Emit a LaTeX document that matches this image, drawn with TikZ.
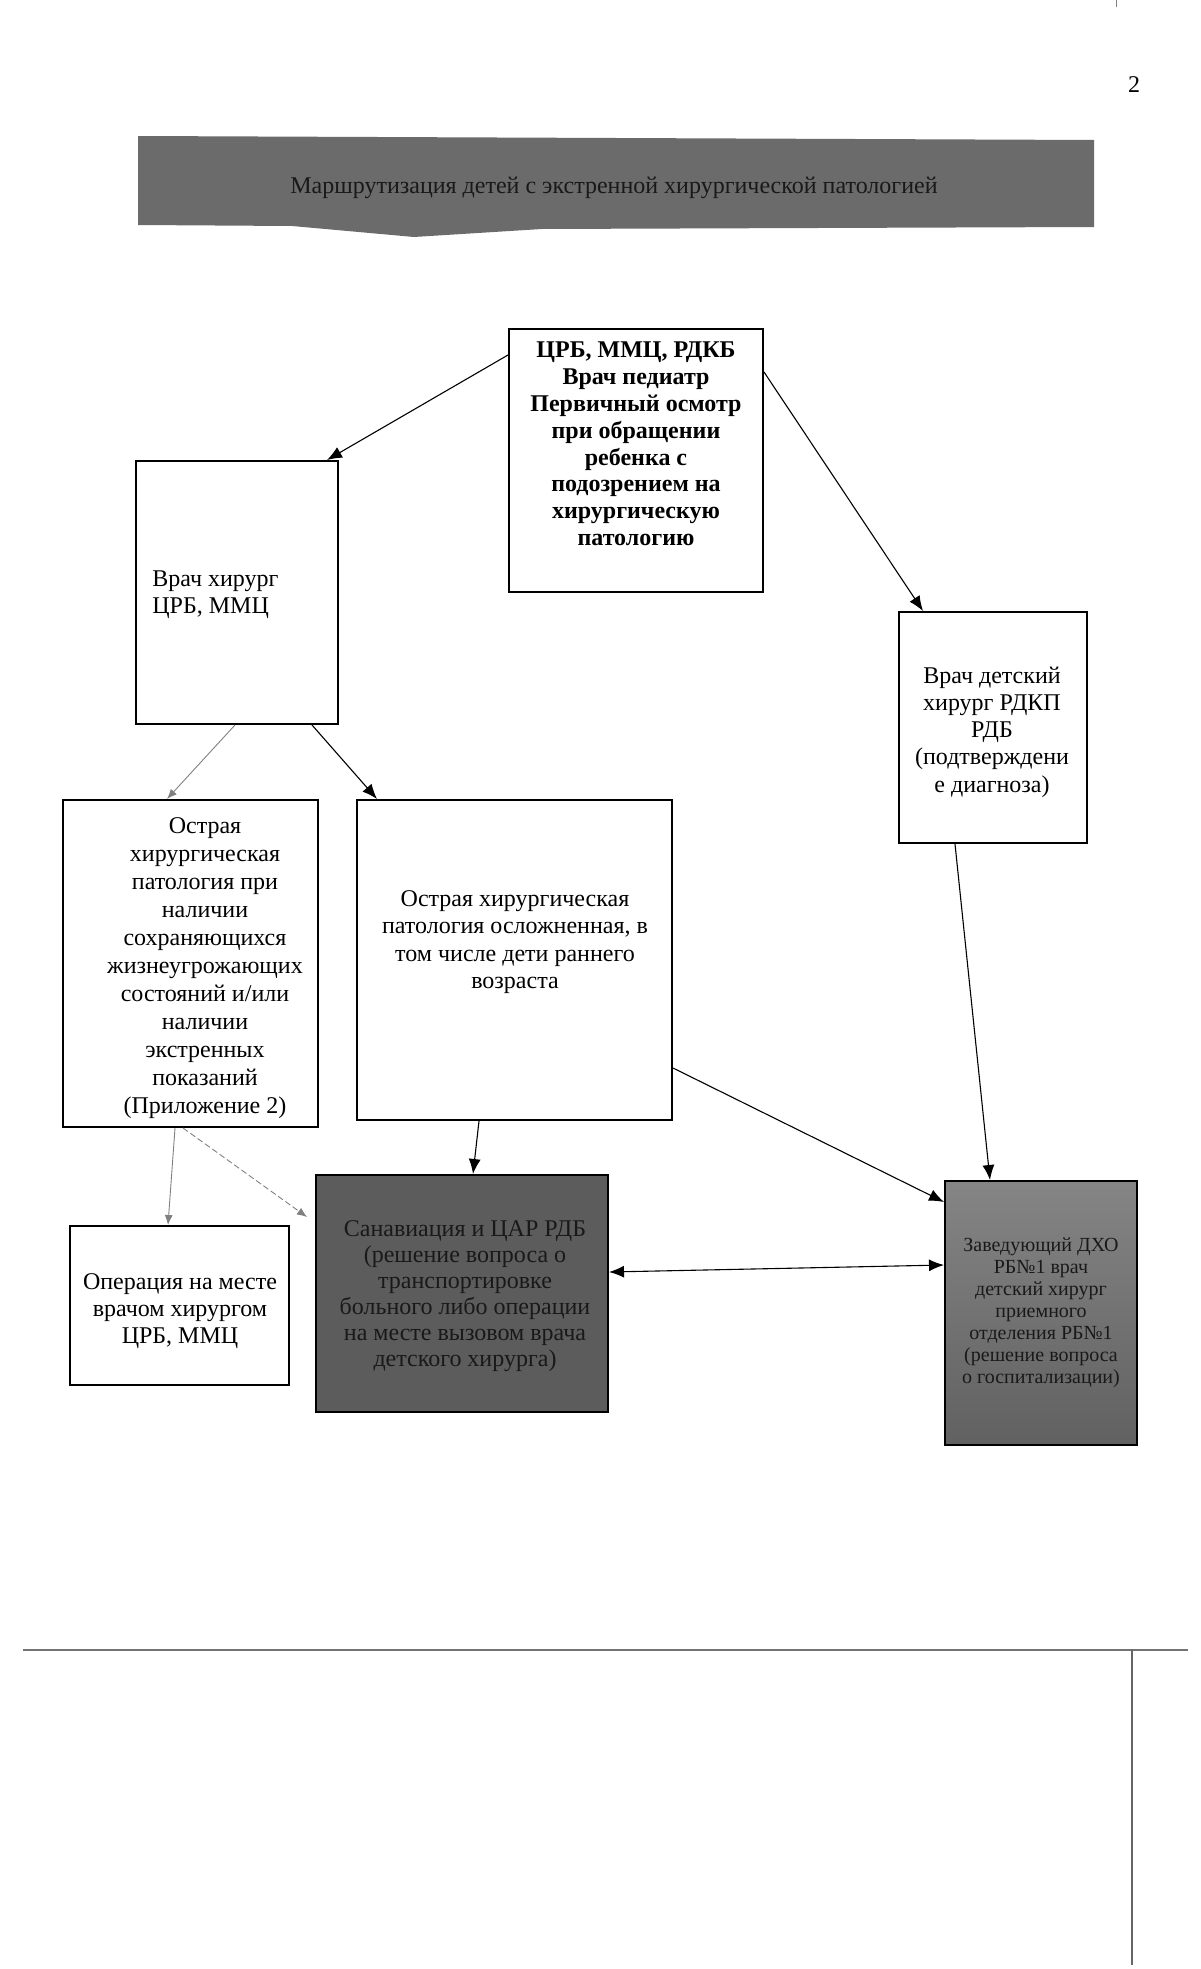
\documentclass[tikz,border=0pt]{standalone}
\usepackage{fontspec}
\setmainfont{Liberation Serif}
\usetikzlibrary{arrows.meta,calc}
\begin{document}
\begin{tikzpicture}[x=0.5pt,y=-0.5pt,
  box/.style={draw,line width=1pt,rectangle,inner sep=0pt},
  darkbox/.style={box,fill=black!64},
  midbox/.style={box,top color=black!48,bottom color=black!62},
  txt/.style={align=center,inner sep=0pt,font=\fontsize{12}{13.6}\selectfont},
  conn/.style={line width=0.55pt,-{Latex[length=7.5pt,width=6pt]}},
  grayconn/.style={line width=0.45pt,draw=black!45,-{Latex[length=5pt,width=4pt]},
    color=black!50},
]
\useasboundingbox (0,0) rectangle (1200,1969);

% page number and scan marks
\node[inner sep=0pt,font=\fontsize{12}{14}\selectfont] (pnum) at (1134,85) {2};
\draw[black!50,line width=0.4pt] (1116,0) -- (1116,7);
\draw[black!55,line width=0.8pt] (23,1650) -- (1188,1650);
\draw[black!60,line width=0.7pt] (1132,1650) -- (1132,1965);

% banner
\fill[black!58] (138,136) -- (1094,140) -- (1094,227) -- (542,229) -- (414,237)
  -- (292,226) -- (138,225) -- cycle;
\node[txt,text=black!90] (title) at (614,188)
  {Маршрутизация детей с экстренной хирургической патологией};

% boxes
\node[box,minimum width=127pt,minimum height=131.5pt] (top) at (636,460.5) {};
\node[box,minimum width=101pt,minimum height=131.5pt] (hir) at (237,592.5) {};
\node[box,minimum width=94pt,minimum height=115.5pt] (det) at (993,727.5) {};
\node[box,minimum width=127.5pt,minimum height=163.5pt] (left) at (190.5,963.5) {};
\node[box,minimum width=157.5pt,minimum height=160pt] (mid) at (514.5,960) {};
\node[box,minimum width=109.5pt,minimum height=79.5pt] (op) at (179.5,1305.5) {};
\node[darkbox,minimum width=146pt,minimum height=118.5pt] (sanav) at (462,1293.5) {};
\node[midbox,minimum width=96pt,minimum height=132pt] (zav) at (1041,1313) {};

% texts
\node[txt,font=\bfseries\fontsize{12}{13.4}\selectfont] (toptxt) at (636,444)
  {ЦРБ, ММЦ, РДКБ\\Врач педиатр\\Первичный осмотр\\при обращении\\ребенка с\\подозрением на\\хирургическую\\патологию};
\node[txt,align=left,anchor=west] (hirtxt) at (152,595) {Врач хирург\\ЦРБ, ММЦ};
\node[txt] (dettxt) at (992,732)
  {Врач детский\\хирург РДКП\\РДБ\\(подтверждени\\е диагноза)};
\node[txt,font=\fontsize{12}{14}\selectfont] (lefttxt) at (205,968)
  {Острая\\хирургическая\\патология при\\наличии\\сохраняющихся\\жизнеугрожающих\\состояний и/или\\наличии\\экстренных\\показаний\\(Приложение 2)};
\node[txt] (midtxt) at (515,942)
  {Острая хирургическая\\патология осложненная, в\\том числе дети раннего\\возраста};
\node[txt] (optxt) at (180,1311) {Операция на месте\\врачом хирургом\\ЦРБ, ММЦ};
\node[txt,font=\fontsize{12}{13}\selectfont,text=black!90] (sanavtxt) at (465,1296)
  {Санавиация и ЦАР РДБ\\(решение вопроса о\\транспортировке\\больного либо операции\\на месте вызовом врача\\детского хирурга)};
\node[txt,font=\fontsize{10}{11}\selectfont,text=black!90] (zavtxt) at (1041,1313)
  {Заведующий ДХО\\РБ№1 врач\\детский хирург\\приемного\\отделения РБ№1\\(решение вопроса\\о госпитализации)};

% connectors
\draw[conn] ([yshift=52.75pt]top.west) -- ([xshift=45pt]hir.north);
\draw[conn] ([yshift=44.25pt]top.east) -- ([xshift=-35pt]det.north);
\draw[grayconn] ([xshift=-1pt]hir.south) -- ([xshift=-11.75pt]left.north);
\draw[conn] ([xshift=37.5pt]hir.south) -- ([xshift=-68.75pt]mid.north);
\draw[grayconn] ([xshift=-7.75pt]left.south) -- ([xshift=-5.75pt]op.north);
\draw[grayconn,dash pattern=on 3pt off 1.5pt] ([xshift=-3.75pt]left.south) -- ([xshift=-4pt,yshift=38.25pt]sanav.west);
\draw[conn] ([xshift=-17.75pt]mid.south) -- ([xshift=5.5pt]sanav.north);
\draw[conn] ([yshift=-54pt]mid.east) -- ([yshift=55.5pt]zav.west);
\draw[conn] ([xshift=-19pt]det.south) -- ([xshift=-25.5pt]zav.north);
\draw[line width=0.55pt,{Latex[length=7.5pt,width=6pt]}-{Latex[length=7.5pt,width=6pt]}]
  ([yshift=10.75pt]sanav.east) -- ([yshift=24pt]zav.west);
\end{tikzpicture}
\end{document}
